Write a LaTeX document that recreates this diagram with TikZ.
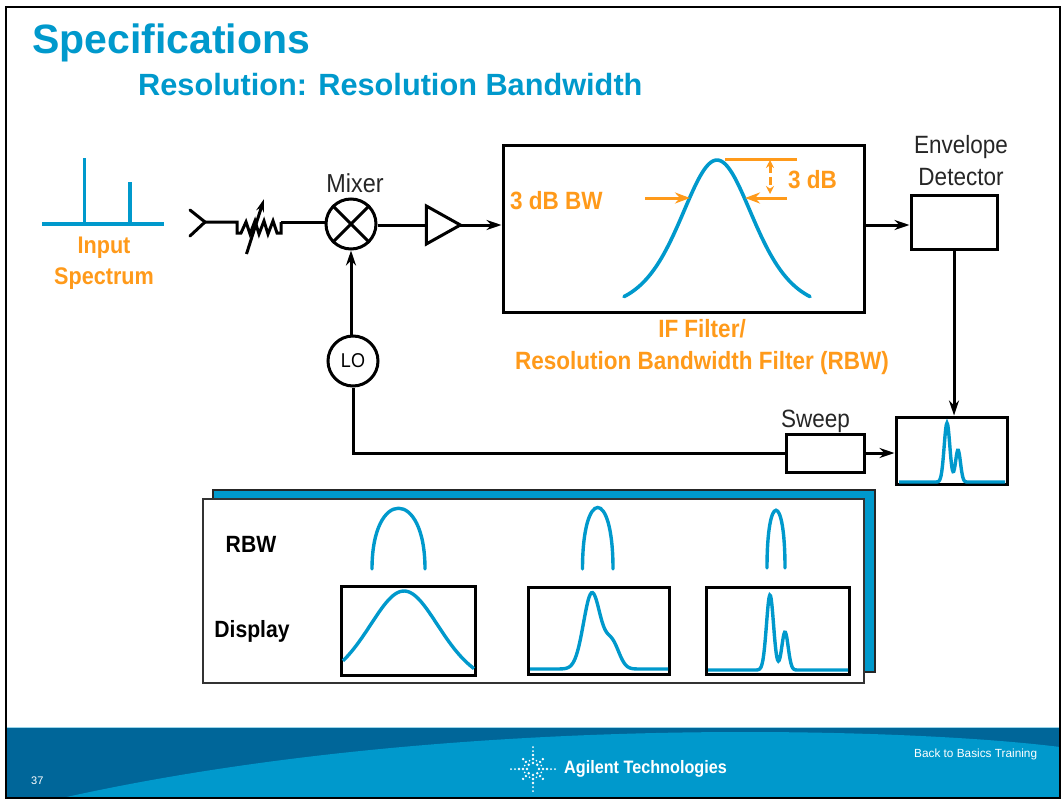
\documentclass[tikz,border=0pt]{standalone}
\usepackage{fontspec}
\setmainfont{Liberation Sans}
\newfontfamily\condfont[FakeStretch=0.9]{Liberation Sans}
\usetikzlibrary{arrows.meta,shapes,shapes.geometric}
\definecolor{agblue}{HTML}{0099CC}
\definecolor{agdark}{HTML}{006699}
\definecolor{agorange}{HTML}{FF9A1A}
\tikzset{
  wire/.style = {draw=black, line width=3pt},
  wire_a/.style = {wire, -{Stealth[length=15pt,width=10pt]}},
  box_n/.style = {rectangle, draw=black, fill=white, line width=3pt, inner sep=0pt},
  ring_n/.style = {circle, draw=black, fill=white, line width=3pt, inner sep=0pt,
    minimum size=50pt},
  lab_k/.style = {font=\condfont\fontsize{25}{25}\selectfont, text=black!85, inner sep=0pt},
  lab_b/.style = {font=\condfont\bfseries\fontsize{23.5}{23.5}\selectfont, text=black, inner sep=0pt},
  lab_o/.style = {font=\condfont\bfseries\fontsize{25}{25}\selectfont, text=agorange, inner sep=0pt},
  trace/.style = {draw=agblue, line width=3.4pt, line cap=round},
  mark_o/.style = {draw=agorange, line width=3pt, -{Stealth[length=15pt,width=11pt]}},
  foot_t/.style = {text=white, inner sep=0pt, anchor=west}
}
\begin{document}
\begin{tikzpicture}[x=1pt,y=-1pt]
\useasboundingbox (0,0) rectangle (1062,800);
\fill[white] (0,0) rectangle (1062,800);
% footer band
\fill[agdark] (6,727) rectangle (1060,798);
\draw[agblue!40, line width=1pt] (6,727) -- (1060,727);
\fill[agblue] (62,798) .. controls (300,745) and (560,732) .. (745,732)
  .. controls (860,732) and (980,737) .. (1060,747) -- (1060,798) -- cycle;
\draw[black, line width=2pt] (6,7) rectangle (1060,798);
% titles
\node[anchor=west, inner sep=0pt, text=agblue, font=\bfseries\fontsize{41}{41}\selectfont] (title) at (32,43) {Specifications};
\node[anchor=west, inner sep=0pt, text=agblue, font=\bfseries\fontsize{30.7}{31}\selectfont] (subtitle) at (138,85) {Resolution: Resolution Bandwidth};
% input spectrum
\coordinate (sp_l) at (42,224);
\coordinate (sp_r) at (164,224);
\coordinate (sp_a) at (84.5,224);
\coordinate (sp_b) at (130,224);
\draw[trace, line cap=butt] (sp_l) -- (sp_r);
\draw[trace, line cap=butt] (sp_a) -- (84.5,158);
\draw[trace, line cap=butt] (sp_b) -- (130,182);
\node[lab_o, align=center, font=\condfont\bfseries\fontsize{24}{31}\selectfont] (input) at (104,263) {Input\\Spectrum};
% front end
\node[ring_n] (mix) at (351,224) {};
\draw[black, line width=3pt] (mix.45) -- (mix.225) (mix.135) -- (mix.315);
\node[lab_k, above=0pt, font=\condfont\fontsize{26}{26}\selectfont] (mixlab) at (355,193) {Mixer};
\node[ring_n] (lo) at (353,361) {\condfont\fontsize{20}{20}\selectfont LO};
\node[isosceles triangle, isosceles triangle stretches, draw=black, fill=white, line width=3pt,
  inner sep=0pt, outer sep=0pt, minimum width=38pt, minimum height=34pt] (amp) at (437.5,225) {};
\coordinate (in_a) at (190,210);
\coordinate (in_m) at (205,222);
\coordinate (in_b) at (190,236);
\coordinate (att_l) at (237,222);
\coordinate (att_r) at (281,222);
\draw[wire, line cap=round] (in_a) -- (in_m) -- (in_b);
\draw[wire] (in_m) -- (att_l) -- (237,233) -- (241,233) -- (246,222) -- (250,234) -- (255,221)
  -- (259,234) -- (264,221) -- (268,234) -- (273,221) -- (277,233) -- (281,233) -- (att_r);
\draw[wire] (att_r) -- (att_r -| mix.west);
\draw[wire, -{Stealth[length=13pt,width=8pt]}] (246.5,254) -- (264,199);
% filter box
\node[box_n, minimum width=361pt, minimum height=167pt] (ifbox) at (683.5,228.5) {};
\draw[wire] (mix.east |- amp.west) -- (amp.west);
\draw[wire_a] (amp.east) -- (amp.east -| ifbox.west);
\draw[wire_a] (lo.north -| mix.south) -- (mix.south);
\draw[trace, line width=3.6pt, domain=-93:93, samples=80, smooth] plot ({717+\x},{310-150/(cosh(\x/49.5))^2});
\draw[agorange, line width=3pt] (725,159) -- (797,159);
\draw[agorange, line width=3pt, dash pattern=on 8pt off 4pt, {Stealth[length=8pt,width=8pt]}-{Stealth[length=8pt,width=8pt]}] (770,160) -- (770,194);
\coordinate (bw_l) at (645,198);
\coordinate (bw_r) at (787,198);
\draw[mark_o] (bw_l) -- (690,198);
\draw[mark_o] (bw_r) -- (745,198);
\node[lab_o, anchor=west] (bwlab) at (510,201) {3 dB BW};
\node[lab_o, anchor=west] (dblab) at (788,180) {3 dB};
\node[lab_o, align=center, font=\condfont\bfseries\fontsize{25}{32}\selectfont] (iflab) at (702,347) {IF Filter/\\Resolution Bandwidth Filter (RBW)};
% detector and display
\node[box_n, minimum width=86pt, minimum height=54pt] (env) at (954,222) {};
\node[lab_k, align=center, font=\condfont\fontsize{25}{32}\selectfont] (envlab) at (961,161) {Envelope\\Detector};
\node[box_n, minimum width=111pt, minimum height=67pt] (screen) at (951.5,450.5) {};
\node[box_n, minimum width=78pt, minimum height=38pt] (sweep) at (825,453) {};
\node[lab_k] (sweeplab) at (815.5,421) {Sweep};
\draw[wire_a] (ifbox.east |- amp) -- (env.west |- amp);
\draw[wire_a] (env.south) -- (screen.north -| env.south);
\draw[wire] (lo.south) |- (sweep.west);
\draw[wire_a] (sweep.east) -- (sweep.east -| screen.west);
\draw[trace, line cap=butt, domain=899:1005, samples=160, smooth] plot ({\x},{482-59*exp(-((\x-947)/4)^2)-32*exp(-((\x-958)/3.5)^2)});
% comparison panel
\fill[agblue, draw=black!85, line width=1.5pt] (213,490) rectangle (875,672);
\node[rectangle, draw=black!80, fill=white, line width=1.5pt, inner sep=0pt, minimum width=661pt, minimum height=184pt] (panel) at (533.5,591) {};
\node[lab_b] (rbwlab) at (251,544) {RBW};
\node[lab_b] (displab) at (252,631) {Display};
\draw[trace] (372,569) .. controls (372,488) and (425,488) .. (425,569);
\draw[trace] (582.5,569) .. controls (582.5,487) and (613,487) .. (613,569);
\draw[trace] (767,568) .. controls (767,491) and (785,491) .. (785,568);
\node[box_n, minimum width=134pt, minimum height=89pt] (disp_a) at (408,630.5) {};
\node[box_n, minimum width=141pt, minimum height=87pt] (disp_b) at (598.5,630.5) {};
\node[box_n, minimum width=143pt, minimum height=87pt] (disp_c) at (778,630.5) {};
\draw[trace, line cap=butt, domain=343:474, samples=80, smooth] plot ({\x},{690-99/(cosh((\x-404)/50))^2});
\draw[trace, line cap=butt, domain=530:668, samples=120, smooth] plot ({\x},{669-76*exp(-((\x-592)/12)^2)-26*exp(-((\x-612)/10)^2)});
\draw[trace, line cap=butt, domain=708:848, samples=180, smooth] plot ({\x},{670-75*exp(-((\x-770)/5)^2)-38*exp(-((\x-785)/4.5)^2)});
% logo
\foreach \ang in {0,45,...,315}{
  \foreach \rad in {6,10,14}{
    \fill[white] (533,769) ++(\ang:\rad pt) circle (1.3pt);
  }
}
\foreach \ang in {0,90,180,270}{
  \foreach \rad in {18,22}{
    \fill[white] (533,769) ++(\ang:\rad pt) circle (1pt);
  }
}
\foreach \ang in {22.5,67.5,...,337.5}{
  \fill[white] (533,769) ++(\ang:9pt) circle (0.9pt);
}
\node[foot_t, font=\condfont\bfseries\fontsize{18}{18}\selectfont] (logo) at (564,769) {Agilent Technologies};
\node[foot_t, font=\fontsize{11.8}{12}\selectfont] (back) at (914,754) {Back to Basics Training};
\node[foot_t, font=\fontsize{11}{11}\selectfont] (page) at (31,781) {37};
\end{tikzpicture}
\end{document}
